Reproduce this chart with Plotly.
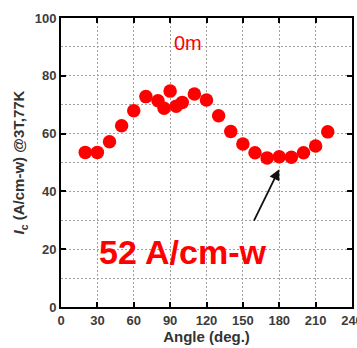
import plotly.graph_objects as go

# Critical current vs. field angle at 3 T, 77 K (0 m position)
angle_deg = [20, 30, 40, 50, 60, 70, 80, 85, 90, 95, 100, 110, 120,
             130, 140, 150, 160, 170, 180, 190, 200, 210, 220]
ic_values = [53.5, 53.5, 57.2, 62.7, 67.9, 72.8, 71.4, 68.8, 74.7, 69.5, 70.8,
             73.7, 71.6, 66.2, 60.7, 56.4, 53.4, 51.6, 52.0, 51.8, 53.4, 55.7, 60.6]
x_ticks = [0, 30, 60, 90, 120, 150, 180, 210, 240]
y_ticks = [0, 20, 40, 60, 80, 100]

min_angle = 180
min_value = 52
position_label = "0m"
value_label = f"{min_value} A/cm-w"

RED = "#ff0000"
GRID = "#a0a0a0"
SANS = "Liberation Sans, Arial, sans-serif"
TICKFONT = dict(family=SANS, size=13, color="#3c3c3c", weight="bold")

fig = go.Figure()
fig.add_trace(go.Scatter(
    x=angle_deg, y=ic_values, mode="markers",
    marker=dict(color=RED, size=13.5, line=dict(width=0)),
    showlegend=False, hoverinfo="skip",
))

axis_common = dict(
    showline=True, linecolor="#000000", linewidth=2, mirror="allticks",
    ticks="inside", ticklen=5, tickwidth=1.5, tickcolor="#000000",
    showgrid=True, gridcolor=GRID, griddash="2px,2px", gridwidth=1,
    zeroline=False, tickfont=TICKFONT, ticklabeloverflow="allow",
    automargin=False,
)

fig.update_xaxes(
    range=[0, 240], tickvals=x_ticks, ticktext=[str(v) for v in x_ticks],
    title=dict(text="Angle (deg.)", standoff=5,
               font=dict(family=SANS, size=15, color="#333333", weight="bold")),
    **axis_common,
)
fig.update_yaxes(
    range=[0, 100], tickvals=y_ticks, ticktext=[str(v) for v in y_ticks],
    minor=dict(dtick=10, showgrid=True, gridcolor=GRID, griddash="2px,2px", ticks=""),
    title=dict(text="<i>I</i><sub>c</sub> (A/cm-w) @3T,77K", standoff=6,
               font=dict(family=SANS, size=15, color="#333333", weight="bold")),
    **axis_common,
)

# White panel behind the value label
fig.add_shape(type="rect", xref="paper", yref="paper",
              x0=0.072, x1=0.745, y0=0.092, y1=0.36,
              fillcolor="white", line=dict(width=0), layer="between")

fig.add_annotation(x=105, y=91.5, text=position_label, showarrow=False,
                   font=dict(family=SANS, size=20, color=RED))
fig.add_annotation(x=100, y=19.2, text=f"<b>{value_label}</b>", showarrow=False,
                   font=dict(family=SANS, size=34, color=RED))
fig.add_annotation(x=min_angle, y=min_value - 4.3, text="", showarrow=True,
                   ax=-26, ay=53, arrowhead=2, arrowsize=1.2, arrowwidth=1.8,
                   arrowcolor="#111111", standoff=0)

fig.update_layout(
    width=357, height=348,
    margin=dict(l=61, r=5, t=18, b=41),
    paper_bgcolor="white", plot_bgcolor="white",
)

fig.write_html("out.html")
